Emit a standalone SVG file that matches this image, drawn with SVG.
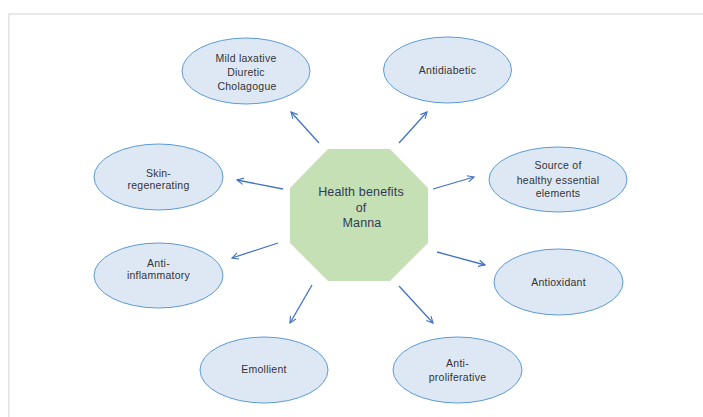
<svg xmlns="http://www.w3.org/2000/svg" width="703" height="417" viewBox="0 0 703 417">
  <style>
    .frame { fill: none; stroke: #e2e2e2; stroke-width: 1.5; }
    .bubble { fill: #dee8f5; stroke: #5b9bd5; stroke-width: 1; }
    .hub { fill: #c5e0b4; stroke: none; }
    .lbl { font-family: "Liberation Sans", Arial, sans-serif; font-size: 10.5px; fill: #333333; text-anchor: middle; letter-spacing: 0.25px; }
    .hubtxt { font-family: "Liberation Sans", Arial, sans-serif; font-size: 12.5px; fill: #2f3a55; text-anchor: middle; letter-spacing: 0.15px; }
    .arrow { fill: none; stroke: #4472c4; stroke-width: 1.3; marker-end: url(#head); }
  </style>
  <defs>
    <marker id="head" viewBox="0 0 10 10" refX="9" refY="5" markerWidth="8" markerHeight="8" markerUnits="userSpaceOnUse" orient="auto">
      <path d="M1,1 L9,5 L1,9" fill="none" stroke="#4472c4" stroke-width="1.4"/>
    </marker>
  </defs>

  <rect width="703" height="417" fill="#ffffff"/>
  <path class="frame" d="M703,14 H8.8 V417"/>

  <g id="center">
    <polygon class="hub" points="328,149 390,149 428,188 428,243 390,281 328,281 290,243 290,188"/>
    <text class="hubtxt" x="361" y="196">Health benefits</text>
    <text class="hubtxt" x="361" y="212">of</text>
    <text class="hubtxt" x="362" y="227">Manna</text>
  </g>

  <g id="laxative">
    <ellipse class="bubble" cx="246" cy="71" rx="64" ry="33"/>
    <text class="lbl" x="246" y="62">Mild laxative</text>
    <text class="lbl" x="246" y="76">Diuretic</text>
    <text class="lbl" x="247" y="90">Cholagogue</text>
  </g>

  <g id="antidiabetic">
    <ellipse class="bubble" cx="447.5" cy="70" rx="64" ry="33"/>
    <text class="lbl" x="447.5" y="74">Antidiabetic</text>
  </g>

  <g id="skin">
    <ellipse class="bubble" cx="158.5" cy="177" rx="64.5" ry="33"/>
    <text class="lbl" x="158.5" y="177">Skin-</text>
    <text class="lbl" x="158.5" y="189">regenerating</text>
  </g>

  <g id="source">
    <ellipse class="bubble" cx="558" cy="179.5" rx="69" ry="32.5"/>
    <text class="lbl" x="558" y="169">Source of</text>
    <text class="lbl" x="558" y="184">healthy essential</text>
    <text class="lbl" x="558" y="197">elements</text>
  </g>

  <g id="inflammatory">
    <ellipse class="bubble" cx="158.5" cy="275.5" rx="64.5" ry="32.5"/>
    <text class="lbl" x="158.5" y="267">Anti-</text>
    <text class="lbl" x="158.5" y="279">inflammatory</text>
  </g>

  <g id="antioxidant">
    <ellipse class="bubble" cx="558.5" cy="282" rx="64.5" ry="33"/>
    <text class="lbl" x="558.5" y="286">Antioxidant</text>
  </g>

  <g id="emollient">
    <ellipse class="bubble" cx="264" cy="370" rx="64" ry="33"/>
    <text class="lbl" x="264" y="373">Emollient</text>
  </g>

  <g id="proliferative">
    <ellipse class="bubble" cx="457.5" cy="370" rx="64.5" ry="33"/>
    <text class="lbl" x="457.5" y="367">Anti-</text>
    <text class="lbl" x="457.5" y="381">proliferative</text>
  </g>

  <g id="connectors">
    <line class="arrow" x1="319" y1="143" x2="291" y2="112"/>
    <line class="arrow" x1="399" y1="143" x2="427" y2="112"/>
    <line class="arrow" x1="283" y1="189" x2="237" y2="180"/>
    <line class="arrow" x1="433" y1="189" x2="474" y2="177"/>
    <line class="arrow" x1="278" y1="243" x2="232" y2="258"/>
    <line class="arrow" x1="437" y1="252" x2="485" y2="265"/>
    <line class="arrow" x1="312" y1="285" x2="290" y2="323"/>
    <line class="arrow" x1="399" y1="286" x2="433" y2="323"/>
  </g>
</svg>
